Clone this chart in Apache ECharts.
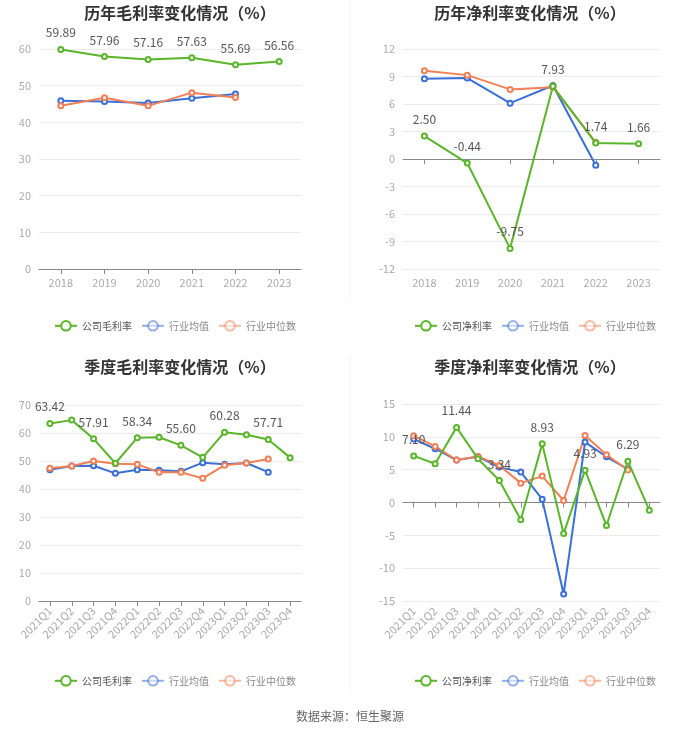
<!DOCTYPE html>
<html><head><meta charset="utf-8">
<script src="https://cdn.jsdelivr.net/npm/echarts@6/dist/echarts.min.js"></script>
<style>html,body{margin:0;padding:0;background:#fff}#c{width:700px;height:734px}</style>
</head><body><div id="c"></div>
<script>
const years = ['2018','2019','2020','2021','2022','2023'];
const quarters = ['2021Q1','2021Q2','2021Q3','2021Q4','2022Q1','2022Q2','2022Q3','2022Q4','2023Q1','2023Q2','2023Q3','2023Q4'];

const yearGrossCompany = [59.89, 57.96, 57.16, 57.63, 55.69, 56.56];
const yearGrossMean    = [45.9, 45.7, 45.3, 46.6, 47.7];
const yearGrossMedian  = [44.5, 46.7, 44.5, 48.1, 46.8];

const yearNetCompany = [2.50, -0.44, -9.75, 7.93, 1.74, 1.66];
const yearNetMean    = [8.75, 8.83, 6.09, 8.02, -0.69];
const yearNetMedian  = [9.63, 9.15, 7.59, 7.84, 1.82];

const qGrossCompany = [63.42, 64.6, 57.91, 49.2, 58.34, 58.5, 55.60, 51.3, 60.28, 59.4, 57.71, 51.2];
const qGrossMean    = [46.9, 48.2, 48.3, 45.6, 46.9, 46.7, 46.3, 49.4, 48.8, 49.3, 46.0];
const qGrossMedian  = [47.4, 48.2, 50.0, 49.0, 48.8, 46.0, 46.0, 43.8, 48.5, 49.3, 50.7];

const qNetCompany = [7.10, 5.9, 11.44, 6.66, 3.34, -2.64, 8.93, -4.73, 4.93, -3.51, 6.29, -1.17];
const qNetMean    = [9.66, 8.19, 6.46, 6.96, 5.39, 4.63, 0.51, -13.93, 9.2, 6.96, 5.1];
const qNetMedian  = [10.17, 8.54, 6.46, 7.02, 5.64, 2.95, 4.02, 0.3, 10.2, 7.27, 4.95];

const titles = ['历年毛利率变化情况（%）','历年净利率变化情况（%）','季度毛利率变化情况（%）','季度净利率变化情况（%）'];
const legendNames = [['公司毛利率','行业均值','行业中位数'],['公司净利率','行业均值','行业中位数'],['公司毛利率','行业均值','行业中位数'],['公司净利率','行业均值','行业中位数']];

const GREEN='#5ab52a', BLUE='#3a6fd6', ORANGE='#f27f55';
const FONT = '"Noto Sans CJK SC","Noto Sans",sans-serif';

const grids = [
  {left:39, top:49, width:262, height:220},
  {left:403, top:49, width:257, height:220},
  {left:39, top:405, width:262, height:196},
  {left:403, top:404, width:257, height:197}
];
const yCfg = [
  {min:0, max:60, interval:10},
  {min:-12, max:12, interval:3},
  {min:0, max:70, interval:10},
  {min:-15, max:15, interval:5}
];
const dataSets = [
  [yearGrossCompany, yearGrossMean, yearGrossMedian],
  [yearNetCompany, yearNetMean, yearNetMedian],
  [qGrossCompany, qGrossMean, qGrossMedian],
  [qNetCompany, qNetMean, qNetMedian]
];
const centers = [175, 525, 175, 525];
const legendLefts = [49, 409, 49, 409];

const option = {
  animation:false,
  textStyle:{fontFamily:FONT},
  title: titles.map((t,i)=>({
    text:t, left:centers[i], top: i<2 ? 0 : 354, textAlign:'center',
    textStyle:{fontSize:16, fontWeight:'bold', color:'#333', fontFamily:FONT}
  })),
  legend: legendNames.map((names,i)=>({
    left:legendLefts[i], top: i<2 ? 315 : 670, orient:'horizontal',
    itemWidth:22, itemHeight:12, itemGap:9,
    textStyle:{fontSize:10, color:'#888', fontFamily:FONT},
    data:[
      {name:names[0], textStyle:{color:'#555'}},
      {name:names[1], itemStyle:{opacity:0.55}, lineStyle:{opacity:0.55}},
      {name:names[2], itemStyle:{opacity:0.55}, lineStyle:{opacity:0.55}}
    ]
  })),
  grid: grids,
  xAxis: grids.map((g,i)=>({
    type:'category', gridIndex:i, data: i<2 ? years : quarters, boundaryGap:true,
    axisLine:{onZero:true, lineStyle:{color:'#888'}},
    axisTick:{show:true, alignWithLabel:true, lineStyle:{color:'#888'}},
    axisLabel:{color:'#aaa', fontSize:11, rotate: i<2 ? 0 : 45, margin:8, interval:0, fontFamily:FONT}
  })),
  yAxis: grids.map((g,i)=>({
    type:'value', gridIndex:i, min:yCfg[i].min, max:yCfg[i].max, interval:yCfg[i].interval,
    axisLine:{show:false}, axisTick:{show:false},
    axisLabel:{color:'#aaa', fontSize:11, fontFamily:FONT},
    splitLine:{lineStyle:{color:'#ececec'}}
  })),
  series: [],
  graphic: [
    {type:'line', shape:{x1:350,y1:0,x2:350,y2:300}, style:{stroke:'#f3f3f3', lineWidth:1}},
    {type:'line', shape:{x1:350,y1:355,x2:350,y2:690}, style:{stroke:'#f3f3f3', lineWidth:1}},
    {type:'text', left:'center', top:710, style:{text:'数据来源：恒生聚源', fill:'#666', fontSize:12, fontFamily:FONT}}
  ]
};

dataSets.forEach((ds,i)=>{
  const colors=[GREEN,BLUE,ORANGE];
  ds.forEach((arr,k)=>{
    const s = {
      type:'line', name:legendNames[i][k], xAxisIndex:i, yAxisIndex:i, data:arr,
      symbol:'emptyCircle', symbolSize:5, z: k===0 ? 3 : 2,
      itemStyle:{color:colors[k]}, lineStyle:{color:colors[k], width:2}
    };
    if(k===0){
      s.label = {show:true, position:'top', color:'#555', fontSize:12, distance:7, fontFamily:FONT,
        formatter: i<2 ? (p=>p.value.toFixed(2)) : (p=> p.dataIndex%2===0 && p.dataIndex<11 ? p.value.toFixed(2) : '')};
    }
    option.series.push(s);
  });
});

const chart = echarts.init(document.getElementById('c'));
chart.setOption(option);
</script></body></html>
